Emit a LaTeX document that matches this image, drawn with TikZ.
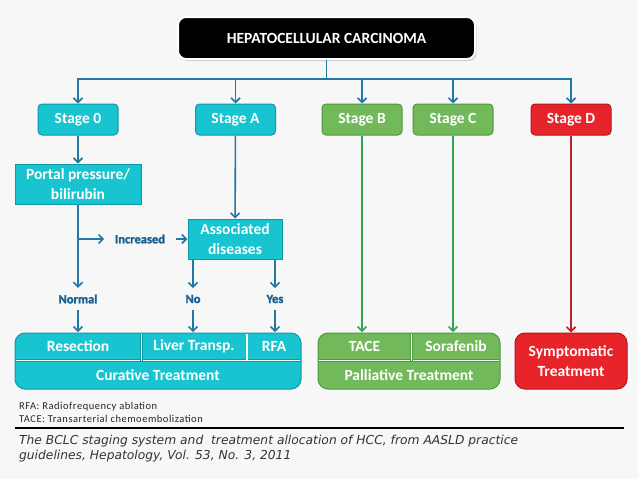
\documentclass[tikz,border=0pt]{standalone}
\usepackage{fontspec}
\setmainfont{Carlito}
\newfontfamily\capfont{DejaVu Sans}
\newfontfamily\labfont[FakeBold=2]{Carlito}
\newfontfamily\notefont[LetterSpace=5]{Carlito}
\usepackage{tikz}
\usetikzlibrary{positioning, arrows.meta, shadows}

\definecolor{bgcol}{HTML}{F7F7F7}
\definecolor{cyanfill}{HTML}{17C4D0}
\definecolor{cyanline}{HTML}{1299A8}
\definecolor{greenfill}{HTML}{72B95B}
\definecolor{greenline}{HTML}{4E9A3E}
\definecolor{redfill}{HTML}{E8242B}
\definecolor{redline}{HTML}{B5151C}
\definecolor{bluearrow}{HTML}{2277A5}
\definecolor{greenarrow}{HTML}{2DA84E}
\definecolor{redarrow}{HTML}{C0212B}
\definecolor{labelcol}{HTML}{1A6293}

\begin{document}
\begin{tikzpicture}[x=1pt, y=-1pt, ->, >={Straight Barb[length=4.5pt,width=9pt]}, line width=1.6pt, bluearrow,
    boxfont/.style={text=white, font=\fontsize{15.5}{19.5}\selectfont\bfseries},
    box/.style={boxfont, draw=cyanline, fill=cyanfill, line width=1pt, align=center, inner sep=0pt},
    stagebox/.style={box, rounded corners=4pt, minimum width=80pt, minimum height=31pt},
    palliative/.style={draw=greenline, fill=greenfill},
    terminal/.style={draw=redline, fill=redfill},
    cell/.style={boxfont, inner sep=0pt, minimum height=27pt},
    lab/.style={text=labelcol, font=\labfont\bfseries\fontsize{12.5}{14}\selectfont, inner xsep=10pt, inner ysep=6pt},
    note/.style={anchor=west, text=black!85, font=\notefont\fontsize{10.5}{12}\selectfont},
    source/.style={anchor=base west, text=black!80, font=\capfont\itshape\fontsize{12.3}{15}\selectfont}]
    \useasboundingbox[fill=bgcol] (0,0) rectangle (638,479);

    \node[box, fill=black, draw=white, line width=2pt, rounded corners=8pt, minimum width=297pt, minimum height=42pt,
          drop shadow={opacity=0.35, shadow xshift=1.5pt, shadow yshift=-2pt}] (hcc) at (326.5,38) {HEPATOCELLULAR CARCINOMA};
    \coordinate (bar) at (326.5,79);

    \node[stagebox] (s0) at (78,119.5) {Stage 0};
    \node[stagebox] (sA) at (235.5,119.5) {Stage A};
    \node[stagebox, palliative] (sB) at (362,119.5) {Stage B};
    \node[stagebox, palliative] (sC) at (453,119.5) {Stage C};
    \node[stagebox, terminal] (sD) at (571,119.5) {Stage D};
    \foreach \s in {s0, sA, sB, sC, sD}
        \draw (hcc.south) -- (bar) -| (\s);

    \node[box, minimum width=126pt, minimum height=40pt] (portal) at (78,184) {Portal pressure/\\bilirubin};
    \node[box, minimum width=94pt, minimum height=40pt] (assoc) at (235,239) {Associated\\diseases};
    \node[lab] (increased) at (140,239) {Increased};
    \node[lab] (normal) at (78,299) {Normal};
    \node[lab] (no) at (193,299) {No};
    \node[lab] (yes) at (275,299) {Yes};
    \coordinate (split) at (78,239);

    \draw[-, cyanline, fill=cyanfill, line width=1pt, rounded corners=10pt] (15,333) rectangle (301,389);
    \draw[-, cyanline, line width=0.6pt, double=white, double distance=1.2pt] (16,360.5) -- (300,360.5);
    \draw[-, cyanline, line width=0.6pt, double=white, double distance=1.2pt] (141.5,334) -- (141.5,360.5);
    \draw[-, cyanline, line width=0.6pt, double=white, double distance=1.2pt] (247,334) -- (247,360.5);
    \node[cell, minimum width=126pt] (resection) at (78,346.5) {Resection};
    \node[cell, minimum width=105pt] (liver) at (194,346.5) {Liver Transp.};
    \node[cell, minimum width=54pt] (rfa) at (274,346.5) {RFA};
    \node[cell, minimum width=286pt] (curative) at (158,375) {Curative Treatment};

    \draw[-, greenline, fill=greenfill, line width=1pt, rounded corners=10pt] (318,333) rectangle (500,389);
    \draw[-, greenline, line width=0.6pt, double=white, double distance=1.2pt] (319,360.5) -- (499,360.5);
    \draw[-, greenline, line width=0.6pt, double=white, double distance=1.2pt] (411.5,334) -- (411.5,360.5);
    \node[cell, minimum width=93pt] (tace) at (364.5,346.5) {TACE};
    \node[cell, minimum width=88pt] (sorafenib) at (456,346.5) {Sorafenib};
    \node[cell, minimum width=182pt] (palliative) at (409,375) {Palliative Treatment};

    \node[box, terminal, rounded corners=10pt, minimum width=112pt, minimum height=56pt] (symp) at (571,361) {Symptomatic\\Treatment};

    \draw (s0) -- (portal);
    \draw (portal) -- (normal);
    \draw (split) -- (increased);
    \draw (increased) -- (assoc);
    \draw (sA) -- (assoc);
    \draw (assoc.south -| no) -- (no);
    \draw (assoc.south -| yes) -- (yes);
    \draw (normal) -- (resection);
    \draw (no) -- (no |- liver.north);
    \draw (yes) -- (yes |- rfa.north);
    \draw[greenarrow] (sB) -- (sB |- tace.north);
    \draw[greenarrow] (sC) -- (sC |- sorafenib.north);
    \draw[redarrow] (sD) -- (symp);

    \node[note] (rfanote) at (15,407) {RFA: Radiofrequency ablation};
    \node[note] (tacenote) at (15,419) {TACE: Transarterial chemoembolization};
    \draw[-, black, line width=1.8pt] (15,428) -- (624,428);
    \node[source] (caption) at (15,444.5) {The BCLC staging system and~ treatment allocation of HCC, from AASLD practice};
    \node[source] (journal) at (15,459.5) {guidelines, Hepatology, Vol. 53, No. 3, 2011};
\end{tikzpicture}
\end{document}
